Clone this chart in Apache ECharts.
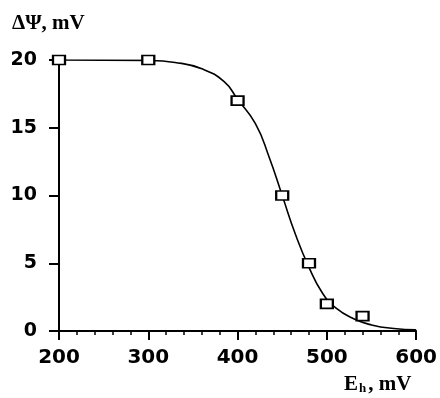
<!DOCTYPE html>
<html>
<head>
<meta charset="utf-8">
<script src="https://cdn.jsdelivr.net/npm/echarts@6/dist/echarts.min.js"></script>
<style>html,body{margin:0;padding:0;background:#fff}#c{width:440px;height:398px}</style>
</head>
<body>
<div id="c"></div>
<script>
// measured points (Eh, mV ; ΔΨ, mV)
var pointsX = [200, 300, 400, 450, 480, 500, 540];
var pointsY = [20, 20, 17, 10, 5, 2, 1.1];
// fitted curve
var curveX = [200, 300, 330, 360, 385, 400, 420, 435, 450, 465, 480, 495, 510, 530, 550, 575, 600];
var curveY = [20, 19.97, 19.82, 19.35, 18.4, 17.1, 15.3, 12.9, 10, 7.1, 4.7, 2.8, 1.7, 0.9, 0.45, 0.18, 0.08];
var xTicks = [200, 300, 400, 500, 600];
var yTicks = [0, 5, 10, 15, 20];

var chart = echarts.init(document.getElementById('c'), null, {renderer: 'canvas'});
var lab = {color: '#000', fontFamily: 'DejaVu Sans', fontWeight: 'bold'};
var axLine = {show: true, lineStyle: {color: '#000', width: 2}};
chart.setOption({
  animation: false,
  backgroundColor: '#fff',
  grid: {left: 59, right: 23, top: 60, bottom: 67},
  xAxis: {
    type: 'value', min: xTicks[0], max: xTicks[xTicks.length - 1], interval: 100,
    axisLine: axLine,
    axisTick: {show: true, length: 9, lineStyle: {color: '#000', width: 2}},
    minorTick: {show: true, splitNumber: 5, length: 4, lineStyle: {color: '#000', width: 1.5}},
    splitLine: {show: false},
    axisLabel: Object.assign({margin: 17, fontSize: 20}, lab)
  },
  yAxis: {
    type: 'value', min: yTicks[0], max: yTicks[yTicks.length - 1], interval: 5,
    axisLine: axLine,
    axisTick: {show: true, length: 10, lineStyle: {color: '#000', width: 2}},
    splitLine: {show: false},
    axisLabel: Object.assign({margin: 22, fontSize: 19}, lab)
  },
  graphic: [
    {type: 'text', left: 12, top: 13, style: {text: 'ΔΨ, mV', fill: '#000', font: 'bold 21px "Liberation Serif"'}},
    {type: 'text', left: 344, top: 374, style: {
      text: '{a|E}{b|h}{a|, mV}',
      rich: {
        a: {fill: '#000', font: 'bold 21px "Liberation Serif"'},
        b: {fill: '#000', font: 'bold 13px "Liberation Serif"', padding: [9, 2, 0, 1]}
      }
    }}
  ],
  series: [
    {
      type: 'line', data: curveX.map(function (x, i) { return [x, curveY[i]]; }),
      smooth: 0.5, showSymbol: false,
      lineStyle: {color: '#000', width: 1.6}, z: 2
    },
    {
      type: 'scatter', data: pointsX.map(function (x, i) { return [x, pointsY[i]]; }),
      symbol: 'rect', symbolSize: [12, 9],
      itemStyle: {color: '#fff', borderColor: '#000', borderWidth: 2, opacity: 1}, z: 3
    }
  ]
});
</script>
</body>
</html>
